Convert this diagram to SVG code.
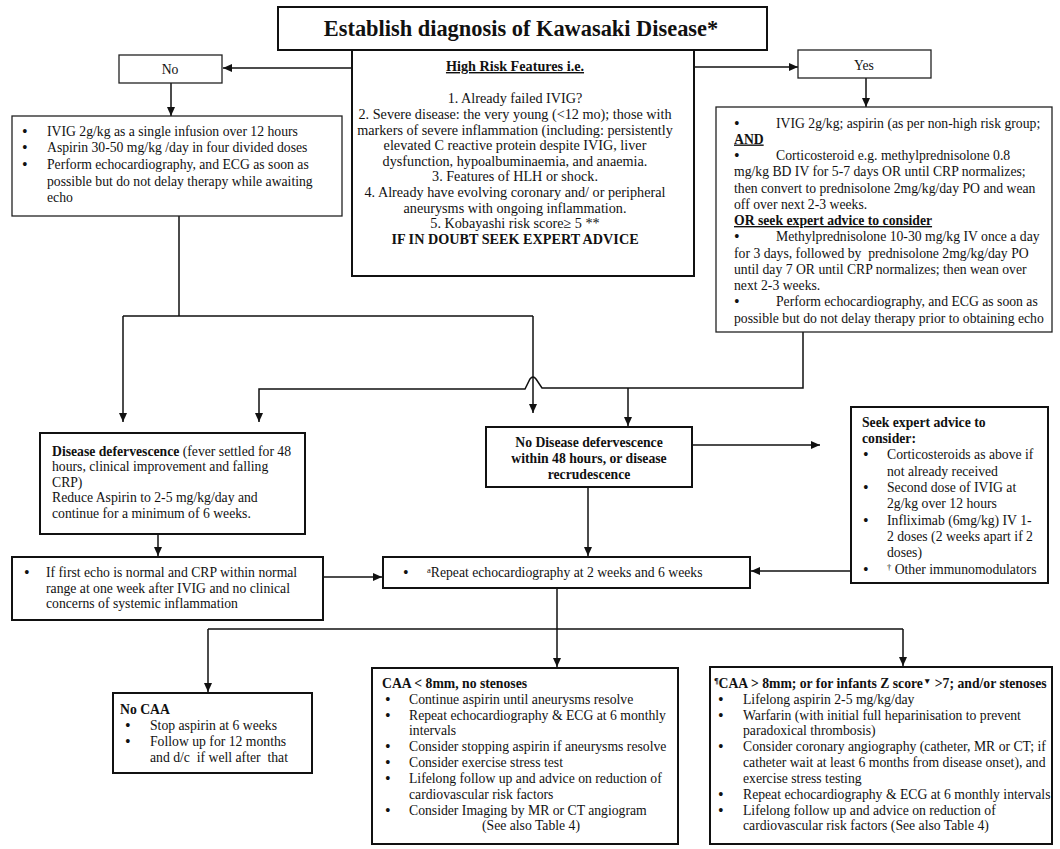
<svg xmlns="http://www.w3.org/2000/svg" width="1060" height="849" viewBox="0 0 1060 849">
<defs>
<marker id="ah" markerWidth="9" markerHeight="8" refX="9" refY="4" orient="auto" markerUnits="userSpaceOnUse"><path d="M0,0 L9,4 L0,8 z" fill="#111"/></marker>
<style>
text{font-family:"Liberation Serif","Times New Roman",serif;font-size:13.7px;fill:#111;white-space:pre}
.b{font-weight:bold}
.u{text-decoration:underline}
.c{text-anchor:middle}
.hr text{font-size:14.2px}
text.bl{font-size:16px}
.box{fill:#fff;stroke:#111;stroke-width:2}
.thin{fill:#fff;stroke:#222;stroke-width:1.3}
.con{fill:none;stroke:#111;stroke-width:1.5}
.arr{marker-end:url(#ah)}
.sup{font-size:8.5px}
</style>
</defs>
<rect width="1060" height="849" fill="#fff"/>

<g id="connectors">
<path class="con arr" d="M352,68 H223"/>
<path class="con arr" d="M171,83 V116"/>
<path class="con arr" d="M694,67 H798"/>
<path class="con arr" d="M866,78 V107"/>
<path class="con" d="M179,216 V316 M123,316 H533"/>
<path class="con arr" d="M123,316 V422"/>
<path class="con arr" d="M533,316 V413"/>
<path class="con arr" d="M803,332 V388 H542 L536,379 Q533,375 530,379 L525,389 H259 V422"/>
<path class="con arr" d="M628,388 V426"/>
<path class="con arr" d="M692,445 H820"/>
<path class="con arr" d="M588,487 V556"/>
<path class="con arr" d="M158,534 V556"/>
<path class="con arr" d="M323,577 H382"/>
<path class="con arr" d="M851,571 H751"/>
<path class="con arr" d="M557,588 V667"/>
<path class="con" d="M208,629 H903"/>
<path class="con arr" d="M208,629 V692"/>
<path class="con arr" d="M903,629 V666"/>
</g>

<g id="title">
<rect class="box" x="278" y="7" width="489" height="43"/>
<text class="b c" x="521" y="36" style="font-size:22.4px">Establish diagnosis of Kawasaki Disease*</text>
</g>

<g id="highrisk" class="hr">
<rect class="box" x="352" y="50" width="342" height="226"/>
<text class="b u c" x="515" y="71">High Risk Features i.e.</text>
<text class="c" x="515" y="103">1. Already failed IVIG?</text>
<text class="c" x="515" y="119">2. Severe disease: the very young (&lt;12 mo); those with</text>
<text class="c" x="515" y="135">markers of severe inflammation (including: persistently</text>
<text class="c" x="515" y="150">elevated C reactive protein despite IVIG, liver</text>
<text class="c" x="515" y="166">dysfunction, hypoalbuminaemia, and anaemia.</text>
<text class="c" x="515" y="181">3. Features of HLH or shock.</text>
<text class="c" x="515" y="197">4. Already have evolving coronary and/ or peripheral</text>
<text class="c" x="515" y="213">aneurysms with ongoing inflammation.</text>
<text class="c" x="515" y="228">5. Kobayashi risk score≥ 5 **</text>
<text class="b c" x="515" y="244">IF IN DOUBT SEEK EXPERT ADVICE</text>
</g>

<g id="no">
<rect class="thin" x="119" y="55" width="103" height="28"/>
<text class="c" x="170" y="74">No</text>
</g>

<g id="yes">
<rect class="thin" x="798" y="50" width="133" height="28"/>
<text class="c" x="864" y="70">Yes</text>
</g>

<g id="standard">
<rect class="thin" x="12" y="116" width="330" height="100"/>
<text class="bl" x="22" y="137">•</text><text x="47" y="136">IVIG 2g/kg as a single infusion over 12 hours</text>
<text class="bl" x="22" y="153">•</text><text x="47" y="152">Aspirin 30-50 mg/kg /day in four divided doses</text>
<text class="bl" x="22" y="170">•</text><text x="47" y="169">Perform echocardiography, and ECG as soon as</text>
<text x="47" y="186">possible but do not delay therapy while awaiting</text>
<text x="47" y="202">echo</text>
</g>

<g id="highrisk-treatment">
<rect class="thin" x="716" y="107" width="336" height="225"/>
<text class="bl" x="734" y="128.5">•</text><text x="776" y="127.5">IVIG 2g/kg; aspirin (as per non-high risk group;</text>
<text class="b u" x="734" y="143.5">AND</text>
<text class="bl" x="734" y="161">•</text><text x="776" y="160">Corticosteroid e.g. methylprednisolone 0.8</text>
<text x="734" y="176">mg/kg BD IV for 5-7 days OR until CRP normalizes;</text>
<text x="734" y="192.5">then convert to prednisolone 2mg/kg/day PO and wean</text>
<text x="734" y="208.5">off over next 2-3 weeks.</text>
<text class="b u" x="734" y="225">OR seek expert advice to consider</text>
<text class="bl" x="734" y="242">•</text><text x="776" y="241">Methylprednisolone 10-30 mg/kg IV once a day</text>
<text x="734" y="257.5">for 3 days, followed by  prednisolone 2mg/kg/day PO</text>
<text x="734" y="273.5">until day 7 OR until CRP normalizes; then wean over</text>
<text x="734" y="290">next 2-3 weeks.</text>
<text class="bl" x="734" y="307">•</text><text x="776" y="306">Perform echocardiography, and ECG as soon as</text>
<text x="734" y="322.5">possible but do not delay therapy prior to obtaining echo</text>
</g>

<g id="defervescence">
<rect class="box" x="40" y="433" width="265" height="101"/>
<text x="52" y="455.5"><tspan class="b">Disease defervescence</tspan> (fever settled for 48</text>
<text x="52" y="471">hours, clinical improvement and falling</text>
<text x="52" y="486.5">CRP)</text>
<text x="52" y="502">Reduce Aspirin to 2-5 mg/kg/day and</text>
<text x="52" y="517.5">continue for a minimum of 6 weeks.</text>
</g>

<g id="no-defervescence">
<rect class="box" x="486" y="427" width="206" height="60"/>
<text class="b c" x="589" y="447">No Disease defervescence</text>
<text class="b c" x="589" y="463">within 48 hours, or disease</text>
<text class="b c" x="589" y="479">recrudescence</text>
</g>

<g id="seek-advice">
<rect class="box" x="851" y="407" width="197" height="176"/>
<text class="b" x="862" y="427">Seek expert advice to</text>
<text class="b" x="862" y="443">consider:</text>
<text class="bl" x="863" y="460">•</text><text x="887" y="459">Corticosteroids as above if</text>
<text x="887" y="476">not already received</text>
<text class="bl" x="863" y="493">•</text><text x="887" y="492">Second dose of IVIG at</text>
<text x="887" y="508">2g/kg over 12 hours</text>
<text class="bl" x="863" y="526">•</text><text x="887" y="525">Infliximab (6mg/kg) IV 1-</text>
<text x="887" y="541">2 doses (2 weeks apart if 2</text>
<text x="887" y="557">doses)</text>
<text class="bl" x="863" y="575">•</text><text x="887" y="574"><tspan class="sup" dy="-4">†</tspan><tspan dy="4"> Other immunomodulators</tspan></text>
</g>

<g id="first-echo">
<rect class="box" x="12" y="557" width="311" height="63"/>
<text class="bl" x="24" y="578">•</text><text x="46" y="577">If first echo is normal and CRP within normal</text>
<text x="46" y="592.5">range at one week after IVIG and no clinical</text>
<text x="46" y="608">concerns of systemic inflammation</text>
</g>

<g id="repeat-echo">
<rect class="box" x="383" y="557" width="367" height="31"/>
<text class="bl" x="403" y="578">•</text><text x="427" y="577"><tspan class="sup" dy="-4">a</tspan><tspan dy="4">Repeat echocardiography at 2 weeks and 6 weeks</tspan></text>
</g>

<g id="no-caa">
<rect class="box" x="113" y="693" width="199" height="80"/>
<text class="b" x="120" y="714">No CAA</text>
<text class="bl" x="125" y="731">•</text><text x="150" y="730">Stop aspirin at 6 weeks</text>
<text class="bl" x="125" y="747">•</text><text x="150" y="746">Follow up for 12 months</text>
<text x="150" y="762">and d/c  if well after  that</text>
</g>

<g id="caa-small">
<rect class="box" x="372" y="668" width="306" height="176"/>
<text class="b" x="382" y="688">CAA &lt; 8mm, no stenoses</text>
<text class="bl" x="385" y="705">•</text><text x="409" y="704">Continue aspirin until aneurysms resolve</text>
<text class="bl" x="385" y="721">•</text><text x="409" y="720">Repeat echocardiography &amp; ECG at 6 monthly</text>
<text x="409" y="735">intervals</text>
<text class="bl" x="385" y="752">•</text><text x="409" y="751">Consider stopping aspirin if aneurysms resolve</text>
<text class="bl" x="385" y="768">•</text><text x="409" y="767">Consider exercise stress test</text>
<text class="bl" x="385" y="784">•</text><text x="409" y="783">Lifelong follow up and advice on reduction of</text>
<text x="409" y="799">cardiovascular risk factors</text>
<text class="bl" x="385" y="816">•</text><text x="409" y="815">Consider Imaging by MR or CT angiogram</text>
<text x="482" y="830">(See also Table 4)</text>
</g>

<g id="caa-large">
<rect class="box" x="710" y="667" width="342" height="177"/>
<text class="b" x="714" y="688"><tspan class="sup" dy="-4">¶</tspan><tspan dy="4">CAA &gt; 8mm; or for infants Z score</tspan><tspan class="sup" dy="-4">▼</tspan><tspan dy="4"> &gt;7; and/or stenoses</tspan></text>
<text class="bl" x="718" y="705">•</text><text x="743" y="704">Lifelong aspirin 2-5 mg/kg/day</text>
<text class="bl" x="718" y="721">•</text><text x="743" y="720">Warfarin (with initial full heparinisation to prevent</text>
<text x="743" y="735">paradoxical thrombosis)</text>
<text class="bl" x="718" y="752">•</text><text x="743" y="751">Consider coronary angiography (catheter, MR or CT; if</text>
<text x="743" y="767">catheter wait at least 6 months from disease onset), and</text>
<text x="743" y="783">exercise stress testing</text>
<text class="bl" x="718" y="800">•</text><text x="743" y="799">Repeat echocardiography &amp; ECG at 6 monthly intervals</text>
<text class="bl" x="718" y="816">•</text><text x="743" y="815">Lifelong follow up and advice on reduction of</text>
<text x="743" y="830">cardiovascular risk factors (See also Table 4)</text>
</g>
</svg>
